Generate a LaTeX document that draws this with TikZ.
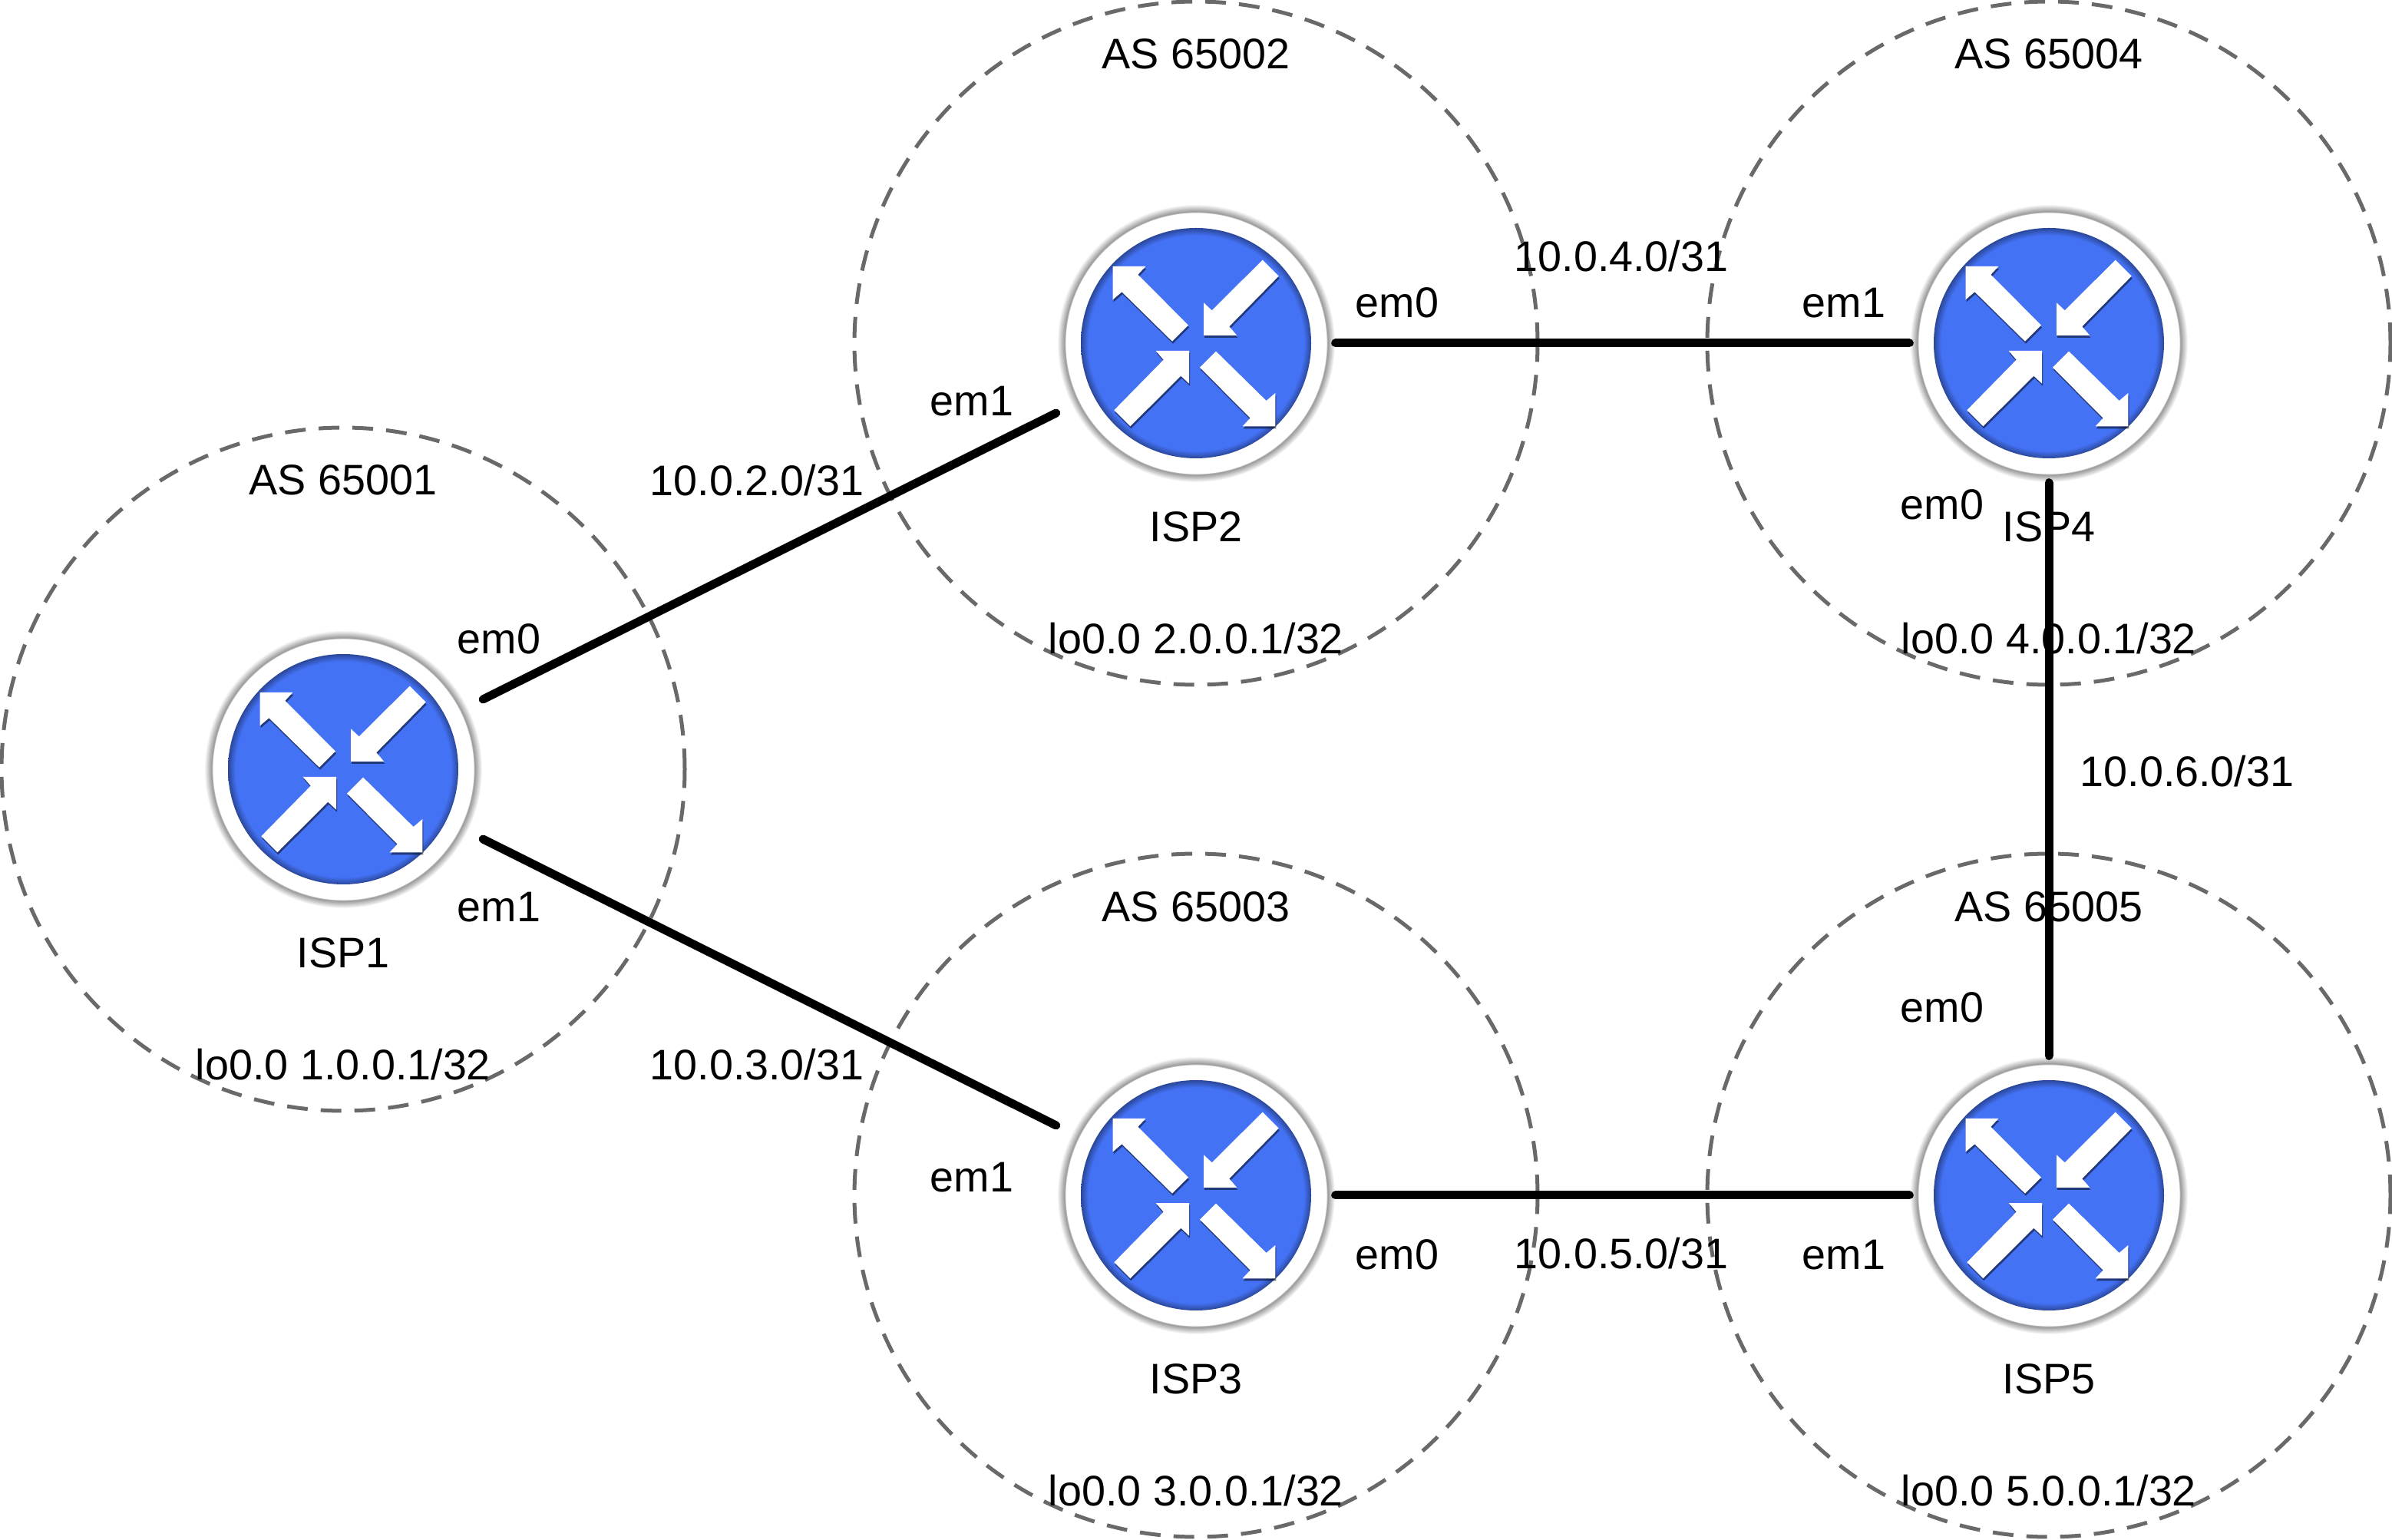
\documentclass[tikz,border=0pt]{standalone}
\usepackage{fontspec}
\setmainfont{Liberation Sans}
\usetikzlibrary{calc}
\definecolor{figBlue}{RGB}{68,114,245}
\definecolor{figDash}{RGB}{105,105,105}
\pgfdeclareradialshading{routerdisc}{\pgfpointorigin}{color(0bp)=(figBlue); color(23.4bp)=(figBlue); color(25bp)=(figBlue!62!black); color(50bp)=(figBlue!62!black)}
\pgfdeclareradialshading{routerhalo}{\pgfpointorigin}{color(0bp)=(white); color(23.5bp)=(white); color(23.6bp)=(black!42); color(25bp)=(white); color(50bp)=(white)}
\newcommand{\routerglyph}[1]{%
\begin{scope}[shift={(#1.center)}]
\shade[shading=routerdisc] (0,0) circle (1.5);
\foreach \tipx/\tipy/\turn in {.1/.1/0,-.09/-.1/180,-1.083/1/-90,1.033/-1.083/90}{
\fill[black,opacity=.5,shift={(\tipx+.01,\tipy-.03)},rotate=\turn] (.767,.983)--(.977,.773)--(.333,.117)--(.433,0)--(0,0)--(0,.427)--(.107,.327)--cycle;
\fill[white,shift={(\tipx,\tipy)},rotate=\turn] (.767,.983)--(.977,.773)--(.333,.117)--(.433,0)--(0,0)--(0,.427)--(.107,.327)--cycle;
}
\end{scope}
}
\tikzset{
router/.style={circle,minimum size=3.62cm,inner sep=0pt,shading=routerhalo},
asring/.style={circle,draw=figDash,line width=.05cm,dash pattern=on .27cm off .17cm,minimum size=8.9cm,inner sep=0pt},
txt/.style={inner sep=0pt,yshift=-.015cm,font=\fontsize{15.85pt}{18pt}\selectfont},
link/.style={line width=.11cm,line cap=round},
slant/.style={link,shorten <=.22cm,shorten >=.22cm}
}
\begin{document}
\begin{tikzpicture}
\useasboundingbox (0,0) rectangle (31.16,20.05);
% AS circles
\node[asring] (as1) at (4.47,10.03) {};
\node[asring] (as2) at (15.58,15.58) {};
\node[asring] (as3) at (15.58,4.48) {};
\node[asring] (as4) at (26.69,15.58) {};
\node[asring] (as5) at (26.69,4.48) {};
% routers
\node[router] (isp1) at (4.47,10.03) {};
\node[router] (isp2) at (15.58,15.58) {};
\node[router] (isp3) at (15.58,4.48) {};
\node[router] (isp4) at (26.69,15.58) {};
\node[router] (isp5) at (26.69,4.48) {};
\routerglyph{isp1}
\routerglyph{isp2}
\routerglyph{isp3}
\routerglyph{isp4}
\routerglyph{isp5}
% links
\draw[slant] (isp1)--(isp2);
\draw[slant] (isp1)--(isp3);
\draw[link] (isp2)--(isp4);
\draw[link] (isp3)--(isp5);
\draw[link] (isp4)--(isp5);
% AS numbers
\node[txt] (asn1) at (4.47,13.81) {AS 65001};
\node[txt] (asn2) at (15.58,19.36) {AS 65002};
\node[txt] (asn3) at (15.58,8.25) {AS 65003};
\node[txt] (asn4) at (26.69,19.36) {AS 65004};
\node[txt] (asn5) at (26.69,8.25) {AS 65005};
% router names
\node[txt] (name1) at (4.47,7.65) {ISP1};
\node[txt] (name2) at (15.58,13.2) {ISP2};
\node[txt] (name3) at (15.58,2.1) {ISP3};
\node[txt] (name4) at (26.69,13.2) {ISP4};
\node[txt] (name5) at (26.69,2.1) {ISP5};
% loopbacks
\node[txt] (lo1) at (4.47,6.2) {lo0.0 1.0.0.1/32};
\node[txt] (lo2) at (15.58,11.75) {lo0.0 2.0.0.1/32};
\node[txt] (lo3) at (15.58,.65) {lo0.0 3.0.0.1/32};
\node[txt] (lo4) at (26.69,11.75) {lo0.0 4.0.0.1/32};
\node[txt] (lo5) at (26.69,.65) {lo0.0 5.0.0.1/32};
% interfaces
\node[txt] (if1a) at (6.5,11.74) {em0};
\node[txt] (if1b) at (6.5,8.25) {em1};
\node[txt] (if2a) at (18.2,16.12) {em0};
\node[txt] (if2b) at (12.66,14.84) {em1};
\node[txt] (if3a) at (18.2,3.72) {em0};
\node[txt] (if3b) at (12.66,4.73) {em1};
\node[txt] (if4a) at (25.3,13.49) {em0};
\node[txt] (if4b) at (24.02,16.12) {em1};
\node[txt] (if5a) at (25.3,6.94) {em0};
\node[txt] (if5b) at (24.02,3.72) {em1};
% subnets
\node[txt] (net2) at (9.86,13.81) {10.0.2.0/31};
\node[txt] (net3) at (9.86,6.2) {10.0.3.0/31};
\node[txt] (net4) at (21.12,16.73) {10.0.4.0/31};
\node[txt] (net5) at (21.12,3.74) {10.0.5.0/31};
\node[txt] (net6) at (28.49,10.02) {10.0.6.0/31};
\end{tikzpicture}
\end{document}
